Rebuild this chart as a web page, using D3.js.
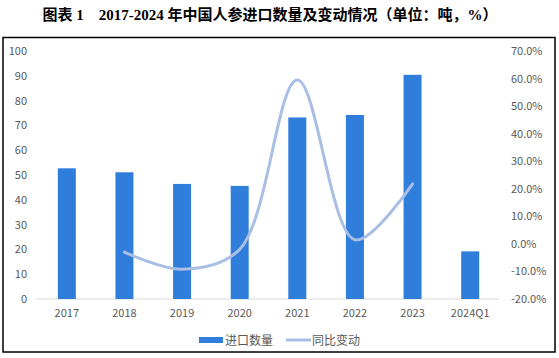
<!DOCTYPE html>
<html><head><meta charset="utf-8">
<script src="https://cdn.jsdelivr.net/npm/d3@7"></script>
<style>body{margin:0;background:#fff}svg{display:block}</style>
</head><body>
<script>
const categories = ["2017","2018","2019","2020","2021","2022","2023","2024Q1"];
const importVolume = [52.7, 51.1, 46.4, 45.6, 73.2, 74.2, 90.4, 19.2];
const yoyChange = [null, -3.0, -9.2, -2.0, 59.5, 1.5, 21.8, null];
const leftTicks = [0,10,20,30,40,50,60,70,80,90,100];
const rightTicks = [-20,-10,0,10,20,30,40,50,60,70];
const titleText = "图表 1　2017-2024 年中国人参进口数量及变动情况（单位：吨，%）";
const legendLabels = ["进口数量","同比变动"];

const W = 559, H = 358;
const svg = d3.select("body").append("svg").attr("width", W).attr("height", H);
const barColor = "#2F7EDB", lineColor = "#A9BEE4", textColor = "#595959";
const fontF = "'Noto Sans CJK SC','Noto Sans',sans-serif";

svg.append("text").attr("x", 270).attr("y", 20).attr("text-anchor","middle")
  .attr("font-family","'Liberation Serif','Noto Sans CJK SC',serif").attr("font-weight","bold")
  .attr("font-size",15).attr("fill","#000").text(titleText);

svg.append("rect").attr("x",3).attr("y",37.5).attr("width",552).attr("height",314.5)
  .attr("fill","none").attr("stroke","#000").attr("stroke-width",1.5);

const x = d3.scaleBand().domain(categories).range([38,499]).paddingInner(0.6875).paddingOuter(0.34375);
const yL = d3.scaleLinear().domain([0,100]).range([299,51]);
const yR = d3.scaleLinear().domain([-20,70]).range([299,51]);

// baseline
svg.append("line").attr("x1",36).attr("x2",499).attr("y1",yL(0)).attr("y2",yL(0))
  .attr("stroke","#D9D9D9").attr("stroke-width",1);

svg.selectAll("rect.bar").data(importVolume).enter().append("rect").attr("class","bar")
  .attr("x",(d,i)=>x(categories[i])).attr("width",x.bandwidth())
  .attr("y",d=>yL(d)).attr("height",d=>yL(0)-yL(d)).attr("fill",barColor);

const lineData = yoyChange.map((v,i)=>({c:categories[i], v})).filter(d=>d.v!==null);
svg.append("path").datum(lineData)
  .attr("d", d3.line().x(d=>x(d.c)+x.bandwidth()/2).y(d=>yR(d.v)).curve(d3.curveCatmullRom.alpha(0.5)))
  .attr("fill","none").attr("stroke",lineColor).attr("stroke-width",3).attr("stroke-linecap","round");

const gL = svg.append("g").attr("transform","translate(36,0)")
  .call(d3.axisLeft(yL).tickValues(leftTicks).tickSize(0).tickPadding(9));
const gR = svg.append("g").attr("transform","translate(499,0)")
  .call(d3.axisRight(yR).tickValues(rightTicks).tickSize(0).tickPadding(12).tickFormat(d=>d.toFixed(1)+"%"));
const gX = svg.append("g").attr("transform","translate(0,299)")
  .call(d3.axisBottom(x).tickSize(0).tickPadding(10));
[gL,gR,gX].forEach(g=>{
  g.select(".domain").remove();
  g.selectAll("text").attr("font-family",fontF).attr("font-size",11).attr("fill",textColor);
});

// legend
const lg = svg.append("g");
lg.append("rect").attr("x",199).attr("y",337).attr("width",24).attr("height",6).attr("fill",barColor);
lg.append("text").attr("x",225).attr("y",344.5).attr("font-family",fontF).attr("font-size",12)
  .attr("fill",textColor).text(legendLabels[0]);
lg.append("line").attr("x1",286).attr("x2",311).attr("y1",340).attr("y2",340)
  .attr("stroke",lineColor).attr("stroke-width",3);
lg.append("text").attr("x",312).attr("y",344.5).attr("font-family",fontF).attr("font-size",12)
  .attr("fill",textColor).text(legendLabels[1]);
</script>
</body></html>
